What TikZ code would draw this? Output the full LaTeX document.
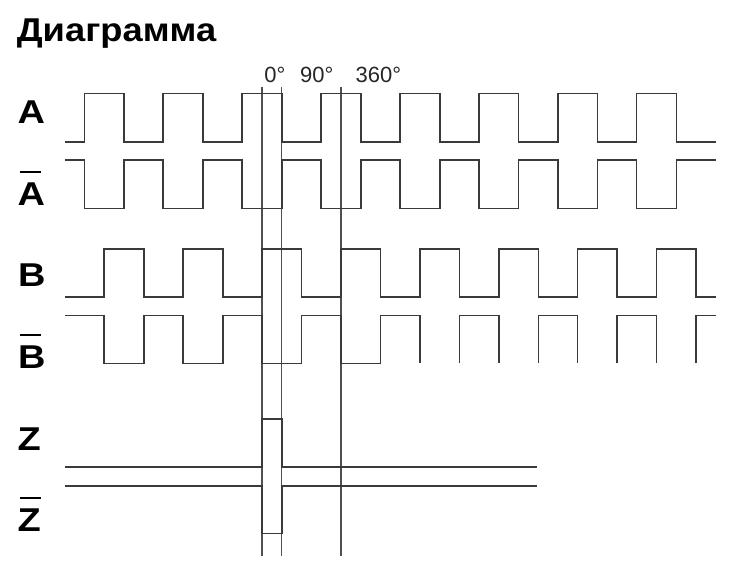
\documentclass[tikz,border=0pt]{standalone}
\usepackage{fontspec}
\setmainfont{Liberation Sans}
\usepackage{xcolor}
\definecolor{wavegray}{RGB}{58,58,58}
\definecolor{markgray}{RGB}{80,80,80}
\tikzstyle{wave} = [draw=wavegray, line width=1.6pt]
\tikzstyle{marker} = [draw=markgray, line width=1.1pt]
\tikzstyle{siglabel} = [anchor=base west, inner sep=0pt, font=\bfseries\fontsize{33}{36}\selectfont]
\tikzstyle{phaselabel} = [anchor=base, inner sep=0pt, font=\fontsize{22}{24}\selectfont, text=black!85]
\newcommand{\sigwide}[1]{\scalebox{1.15}[1]{#1}}
\newcommand{\sigbar}[1]{\rlap{\hspace{0.06em}\rule[0.98em]{0.55em}{0.06em}}#1}

\begin{document}
\begin{tikzpicture}[x=1pt, y=-1pt]
        \useasboundingbox (0,0) rectangle (735,579);

        % title and signal names
        \node (title) [siglabel] at (16.7,41.7) {\scalebox{1.1}[1]{Диаграмма}};
        \node (labA) [siglabel] at (17.3,123.5) {\sigwide{A}};
        \node (labAn) [siglabel] at (17.3,205) {\sigwide{\sigbar{A}}};
        \node (labB) [siglabel] at (18,286) {\sigwide{B}};
        \node (labBn) [siglabel] at (18,368) {\sigwide{\sigbar{B}}};
        \node (labZ) [siglabel] at (17.3,450) {\sigwide{Z}};
        \node (labZn) [siglabel] at (17.3,531.7) {\sigwide{\sigbar{Z}}};

        % phase marks
        \node (deg0) [phaselabel] at (275,82.3) {0°};
        \node (deg90) [phaselabel] at (316.7,82.3) {90°};
        \node (deg360) [phaselabel] at (378.3,82.3) {360°};

        \draw [marker] (262,87) -- (262,556);
        \draw [marker] (281.7,87) -- (281.7,556);
        \draw [marker] (341,87) -- (341,556);

        % channel A
        \draw [wave] (65,141.7) -| (84.3,93.3) -| (124.1,141.7) -| (163.2,93.3) -| (203,141.7)
            -| (242.1,93.3) -| (281.9,141.7) -| (321,93.3) -| (360.8,141.7) -| (399.9,93.3)
            -| (439.7,141.7) -| (478.8,93.3) -| (518.6,141.7) -| (557.7,93.3) -| (597.5,141.7)
            -| (636.6,93.3) -| (676.4,141.7) -- (715.7,141.7);
        \draw [wave] (65,160) -| (84.3,208.3) -| (124.1,160) -| (163.2,208.3) -| (203,160)
            -| (242.1,208.3) -| (281.9,160) -| (321,208.3) -| (360.8,160) -| (399.9,208.3)
            -| (439.7,160) -| (478.8,208.3) -| (518.6,160) -| (557.7,208.3) -| (597.5,160)
            -| (636.6,208.3) -| (676.4,160) -- (715.7,160);

        % channel B
        \draw [wave] (65,296.7) -| (104.2,249) -| (143.8,296.7) -| (183.1,249) -| (222.7,296.7)
            -| (262,249) -| (301.6,296.7) -| (340.9,249) -| (380.5,296.7) -| (419.8,249)
            -| (459.4,296.7) -| (498.7,249) -| (538.3,296.7) -| (577.6,249) -| (617.2,296.7)
            -| (656.5,249) -| (696.1,296.7) -- (715.7,296.7);
        \draw [wave] (65,315.3) -| (104.2,363.3) -| (143.8,315.3) -| (183.1,363.3) -| (222.7,315.3)
            -| (262,363.3) -| (301.6,315.3) -| (340.9,363.3) -| (380.5,315.3) -| (419.8,363.3);
        \draw [wave] (459.4,363.3) |- (498.7,315.3) -- (498.7,363.3);
        \draw [wave] (538.3,363.3) |- (577.6,315.3) -- (577.6,363.3);
        \draw [wave] (617.2,363.3) |- (656.5,315.3) -- (656.5,363.3);
        \draw [wave] (696.1,363.3) |- (715.7,315.3);

        % channel Z
        \draw [wave] (65,466.7) -| (262,419) -| (281.7,466.7) -- (537.3,466.7);
        \draw [wave] (65,485.7) -| (262,533.3) -| (281.7,485.7) -- (537.3,485.7);

    \end{tikzpicture}
\end{document}
